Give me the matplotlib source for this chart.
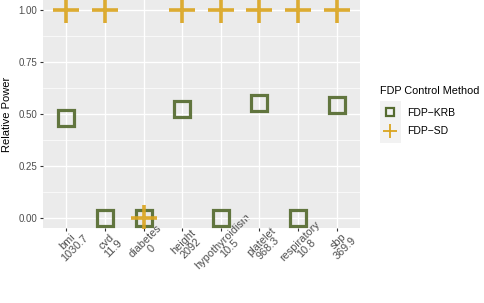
import matplotlib
matplotlib.use("Agg")
import matplotlib.pyplot as plt
from matplotlib.lines import Line2D
from matplotlib.patches import Rectangle
from matplotlib.transforms import ScaledTranslation

plt.rcParams['font.family'] = ['Liberation Sans', 'DejaVu Sans']

# data
traits = ["bmi", "cvd", "diabetes", "height", "hypothyroidism", "platelet", "respiratory", "sbp"]
trait_values = ["1030.7", "11.9", "0", "2092", "10.5", "968.3", "10.8", "369.9"]
power_krb = [0.48, 0.0, 0.0, 0.523, 0.0, 0.555, 0.0, 0.544]
power_sd = [1.0, 1.0, 0.0, 1.0, 1.0, 1.0, 1.0, 1.0]

green = "#556B2F"
gold = "#DAA520"

W, H = 485, 303
fig = plt.figure(figsize=(W / 100, H / 100), dpi=100)
ax = fig.add_axes([43 / W, (H - 228) / H, (360 - 43) / W, 228 / H])
ax.set_facecolor("#EBEBEB")
for s in ax.spines.values():
    s.set_visible(False)

x = list(range(len(traits)))
ax.plot(x, power_krb, ls="none", marker="s", ms=11.7, mew=2.3, mfc="none",
        mec=green, alpha=0.92, zorder=3)
ax.plot(x, power_sd, ls="none", marker="+", ms=18.5, mew=2.6,
        mec=gold, alpha=0.92, zorder=4)

ax.set_xlim(-0.6, 7.6)
ax.set_ylim(-0.05, 1.05)
ax.set_yticks([0, 0.25, 0.5, 0.75, 1.0])
ax.set_yticklabels(["0.00", "0.25", "0.50", "0.75", "1.00"])
ax.set_yticks([0.125, 0.375, 0.625, 0.875], minor=True)
ax.set_xticks(x)
ax.set_xticklabels([f"{t}\n{v}" for t, v in zip(traits, trait_values)],
                   rotation=45, ha="center", va="center", rotation_mode="anchor",
                   multialignment="center", linespacing=0.93)
ax.grid(which="major", color="white", lw=0.95)
ax.grid(which="minor", axis="y", color="white", lw=0.5)
ax.set_axisbelow(True)
ax.tick_params(which="major", length=2.2, width=0.8, color="#333333",
               labelcolor="#4D4D4D", labelsize=7)
ax.tick_params(axis="x", pad=10, labelsize=7.8)
ax.tick_params(axis="y", pad=2)
ax.tick_params(which="minor", length=0)

off = ScaledTranslation(0.05, 0, fig.dpi_scale_trans)
for lab in ax.get_xticklabels():
    lab.set_transform(lab.get_transform() + off)

ax.set_ylabel("Relative Power", fontsize=8, color="black")
ax.yaxis.set_label_coords(-(43 - 12) / 317, 0.5)

# legend
fig.text(380 / W, 1 - 90.7 / H, "FDP Control Method", fontsize=7.8,
         ha="left", va="center")
fig.add_artist(Rectangle((380 / W, (H - 142.5) / H), 21 / W, 41.5 / H,
                         transform=fig.transFigure, facecolor="#F2F2F2",
                         edgecolor="none", zorder=1))
handles = [
    Line2D([], [], ls="none", marker="s", ms=5.3, mew=1.6, mfc="none", mec=green),
    Line2D([], [], ls="none", marker="+", ms=9.5, mew=1.3, mec=gold),
]
leg = fig.legend(handles, ["FDP\u2212KRB", "FDP\u2212SD"],
                 loc="upper left", bbox_to_anchor=(380 / W, 1 - 108 / H),
                 frameon=False, borderpad=0, borderaxespad=0, fontsize=7.5,
                 handlelength=2.0, handletextpad=0.6, labelspacing=0.8)
leg.set_zorder(5)

fig.savefig("out.png", dpi=100)
